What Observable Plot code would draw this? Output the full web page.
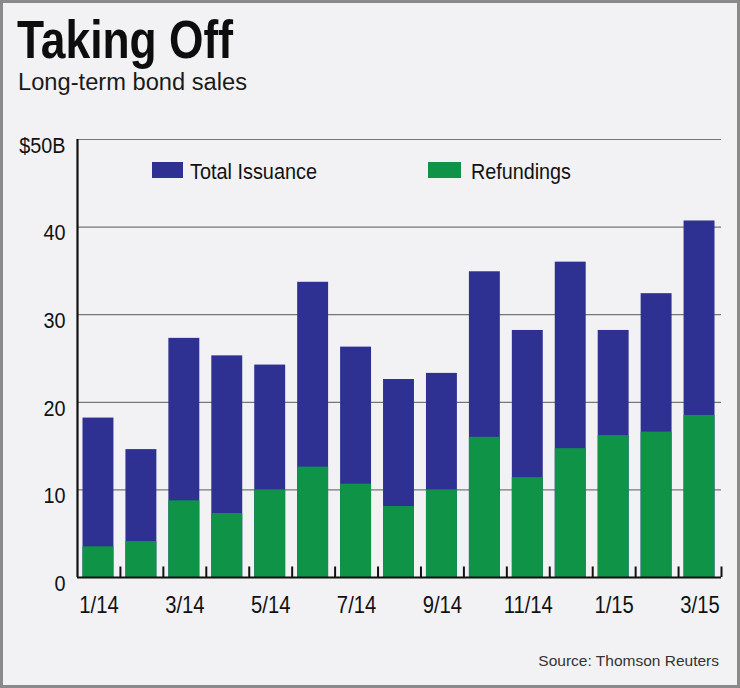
<!DOCTYPE html>
<html>
<head>
<meta charset="utf-8">
<script src="https://cdn.jsdelivr.net/npm/d3@7"></script>
<script src="https://cdn.jsdelivr.net/npm/@observablehq/plot@0.6"></script>
<style>
  html, body { margin: 0; padding: 0; background: #f2f2f4; }
  #wrap { position: relative; width: 740px; height: 688px; background: #f2f2f4; overflow: hidden; }
  #chart { position: absolute; left: 0; top: 100px; }
  #overlay { position: absolute; left: 0; top: 0; pointer-events: none; }
  text { font-family: "Liberation Sans", Arial, Helvetica, sans-serif; }
</style>
</head>
<body>
<div id="wrap">
  <div id="chart"></div>
  <svg id="overlay" width="740" height="688">
    <text x="17" y="58" font-size="54" font-weight="bold" fill="#0d0d0d" textLength="216" lengthAdjust="spacingAndGlyphs">Taking Off</text>
    <text x="18" y="90" font-size="23" fill="#1a1a1a" textLength="229" lengthAdjust="spacingAndGlyphs">Long-term bond sales</text>
    <rect x="152" y="162" width="31" height="16" fill="#2e3192"></rect>
    <text x="190" y="178.5" font-size="22.5" fill="#111" textLength="127" lengthAdjust="spacingAndGlyphs">Total Issuance</text>
    <rect x="428" y="162" width="33" height="16" fill="#0f9447"></rect>
    <text x="471" y="178.5" font-size="22.5" fill="#111" textLength="100" lengthAdjust="spacingAndGlyphs">Refundings</text>
    <text x="719" y="665.5" font-size="15.5" fill="#333" text-anchor="end">Source: Thomson Reuters</text>
    <rect x="1.5" y="1.5" width="737" height="685" fill="none" stroke="#8a8a8a" stroke-width="3"></rect>
  </svg>
</div>
<script>
const months = ["1/14","2/14","3/14","4/14","5/14","6/14","7/14","8/14","9/14","10/14","11/14","12/14","1/15","2/15","3/15"];
const totalIssuance = [18.2,14.6,27.3,25.3,24.25,33.7,26.3,22.6,23.3,34.9,28.2,36.0,28.2,32.4,40.7];
const refundings = [3.5,4.1,8.75,7.3,10.0,12.6,10.65,8.1,10.0,16.0,11.4,14.7,16.2,16.6,18.5];
const yTicks = [0,10,20,30,40,50];
const yTickLabels = ["0","10","20","30","40","$50B"];

const data = months.map((m, i) => ({i, m, total: totalIssuance[i], refund: refundings[i]}));
const labelPositions = data.filter(d => d.i % 2 === 0).map(d => d.i + 0.5);
const boundaries = d3.range(1, months.length + 1);

const chart = Plot.plot({
  width: 740,
  height: 540,
  marginLeft: 77,
  marginRight: 19,
  marginTop: 39,
  marginBottom: 63,
  style: {
    background: "transparent",
    fontFamily: '"Liberation Sans", Arial, sans-serif',
    color: "#111",
    overflow: "visible"
  },
  x: {type: "linear", domain: [0, months.length], axis: null},
  y: {domain: [0, 50], axis: null},
  marks: [
    Plot.ruleY(yTicks.filter(d => d > 0), {stroke: "#777", strokeWidth: 1.2}),
    Plot.rectY(data, {x1: "i", x2: d => d.i + 1, y: "total", fill: "#2e3192", insetLeft: 5.5, insetRight: 6.5}),
    Plot.rectY(data, {x1: "i", x2: d => d.i + 1, y: "refund", fill: "#0f9447", insetLeft: 5.5, insetRight: 6.5}),
    Plot.ruleX(boundaries, {y1: 0, y2: 1.2, stroke: "#111", strokeWidth: 2}),
    Plot.ruleY([0], {stroke: "#111", strokeWidth: 2.2}),
    Plot.ruleX([0], {stroke: "#111", strokeWidth: 2.2}),
    Plot.axisY(yTicks, {
      label: null, tickSize: 0, tickPadding: 12, dy: 6, fontSize: 22.5,
      tickFormat: d => yTickLabels[yTicks.indexOf(d)]
    }),
    Plot.axisX(labelPositions, {
      label: null, tickSize: 0, tickPadding: 19, fontSize: 23,
      tickFormat: v => months[Math.floor(v)]
    })
  ]
});
// condense axis tick labels (narrow typeface look)
chart.querySelectorAll("g[aria-label$='tick label'] text").forEach(t => {
  const tr = t.getAttribute("transform") || "";
  t.setAttribute("transform", tr + " scale(0.88,1)");
});
document.getElementById("chart").appendChild(chart);
</script>
</body>
</html>
